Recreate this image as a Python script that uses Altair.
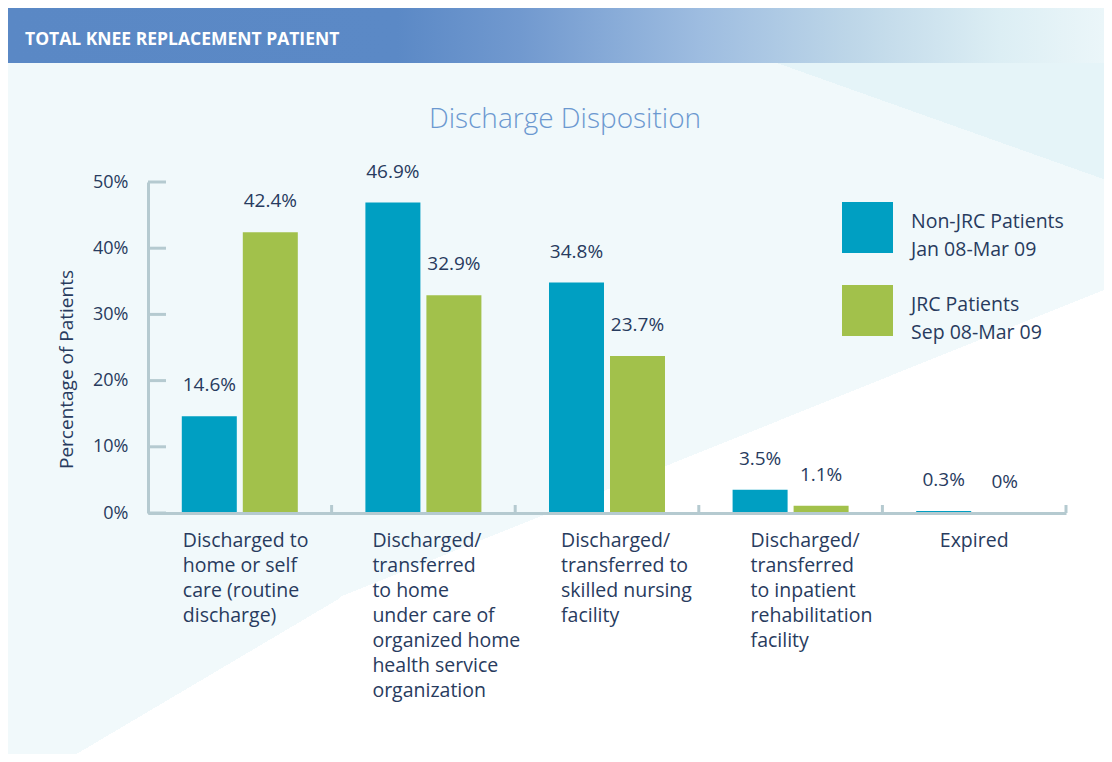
import altair as alt
import pandas as pd

# ---------------- data ----------------
categories = [
    "Discharged to|home or self|care (routine|discharge)",
    "Discharged/|transferred|to home|under care of|organized home|health service|organization",
    "Discharged/|transferred to|skilled nursing|facility",
    "Discharged/|transferred|to inpatient|rehabilitation|facility",
    "Expired",
]
series = ["Non-JRC Patients|Jan 08-Mar 09", "JRC Patients|Sep 08-Mar 09"]
non_jrc = [14.6, 46.9, 34.8, 3.5, 0.3]
jrc = [42.4, 32.9, 23.7, 1.1, 0.0]
y_ticks = [0, 10, 20, 30, 40, 50]

header_text = "TOTAL KNEE REPLACEMENT PATIENT"
chart_title = "Discharge Disposition"
y_title = "Percentage of Patients"

# ---------------- styles ----------------
NAVY = "#283B5E"
AXIS = "#B5CAD0"
BLUE = "#009FC2"
GREEN = "#A2C14B"
BASE = "#F1F9FB"
FONT = "Open Sans"
W, H = 918, 331
PAD = {"left": 140, "top": 174, "right": 38, "bottom": 241}
RIGHT = W + PAD["right"]
BOTTOM = H + PAD["bottom"]

rows = []
for c, a, b in zip(categories, non_jrc, jrc):
    rows.append({"cat": c, "series": series[0], "v": a})
    rows.append({"cat": c, "series": series[1], "v": b})
df = pd.DataFrame(rows)
one = pd.DataFrame({"d": [0]})
tick_df = pd.DataFrame({"v": y_ticks})
cat_df = pd.DataFrame({"cat": categories})

x_scale = alt.Scale(domain=categories, paddingInner=0, paddingOuter=0)
off_scale = alt.Scale(domain=series, paddingInner=0.0984, paddingOuter=0.554)
y_scale = alt.Scale(domain=[0, 50])

def cond_eq(i):
    return "datum.value == '" + categories[i] + "'"

x_axis = alt.Axis(
    title=None, ticks=False, grid=False, zindex=1,
    domainColor=AXIS, domainWidth=3,
    labelExpr="split(datum.label, '|')",
    labelAngle=0, labelOverlap=False, labelBound=False, labelLimit=400,
    labelFont=FONT, labelFontSize=19.5, labelColor=NAVY, labelLineHeight=25,
    labelBaseline="top", labelPadding=18,
    labelAlign={"condition": {"test": cond_eq(4), "value": "center"}, "value": "left"},
    labelOffset={"condition": [
        {"test": cond_eq(0), "value": -57},
        {"test": cond_eq(1), "value": -51},
        {"test": cond_eq(2), "value": -46},
        {"test": cond_eq(3), "value": -40},
    ], "value": 0},
)

y_axis = alt.Axis(
    values=y_ticks, labelExpr="datum.value + '%'", ticks=False, grid=False, zindex=1,
    domainColor=AXIS, domainWidth=3,
    labelFont=FONT, labelFontSize=18, labelColor=NAVY, labelPadding=20,
    title=y_title, titleFont=FONT, titleFontSize=19, titleFontWeight="normal",
    titleColor=NAVY, titleAngle=270, titleX=-82, titleY=187,
    titleAlign="center", titleBaseline="middle",
)

def split_grad(x1, y1, x2, y2, t, c1, c2):
    return alt.LinearGradient(
        gradient="linear", x1=x1, y1=y1, x2=x2, y2=y2,
        stops=[alt.GradientStop(color=c1, offset=0),
               alt.GradientStop(color=c1, offset=t),
               alt.GradientStop(color=c2, offset=t),
               alt.GradientStop(color=c2, offset=1)])

# ---------------- decorations ----------------
bg = alt.Chart(one).mark_rect(
    fill=split_grad(0, 0, 0.696, 1.179, 0.609, BASE, "#FFFFFF"),
).encode(x=alt.value(-PAD["left"]), x2=alt.value(RIGHT),
         y=alt.value(-PAD["top"]), y2=alt.value(BOTTOM))

corner = alt.Chart(one).mark_rect(
    fill=split_grad(0, 0, 1.081, 0.903, 0.5676, BASE, "#FFFFFF"),
).encode(x=alt.value(-PAD["left"]), x2=alt.value(192), y=alt.value(408), y2=alt.value(BOTTOM))

tri = alt.Chart(one).mark_rect(
    fill=split_grad(0, 1, 1.057, 0.0647, 0.5705, BASE, "#E5F4F8"),
).encode(x=alt.value(552), x2=alt.value(RIGHT), y=alt.value(-119), y2=alt.value(8))

header = alt.Chart(one).mark_rect(
    fill=alt.LinearGradient(
        gradient="linear", x1=0, y1=0, x2=1, y2=0,
        stops=[alt.GradientStop(color="#5A88C5", offset=0),
               alt.GradientStop(color="#5B89C6", offset=0.355),
               alt.GradientStop(color="#7199CF", offset=0.467),
               alt.GradientStop(color="#9DBCE0", offset=0.63),
               alt.GradientStop(color="#BDD6E8", offset=0.768),
               alt.GradientStop(color="#DCEEF4", offset=0.905),
               alt.GradientStop(color="#EBF6F9", offset=1)]),
).encode(x=alt.value(-PAD["left"]), x2=alt.value(RIGHT), y=alt.value(-176), y2=alt.value(-119))

header_txt = alt.Chart(one).mark_text(
    text=header_text, font=FONT, fontSize=17.5, fontWeight="bold", color="#FFFFFF",
    align="left", baseline="middle",
).encode(x=alt.value(-123), y=alt.value(-142))

title_txt = alt.Chart(one).mark_text(
    text=chart_title, font=FONT, fontSize=28, fontWeight=300, color="#6B98D0",
    align="center", baseline="middle",
).encode(x=alt.value(417), y=alt.value(-62))

# ---------------- data marks ----------------
bars = alt.Chart(df).mark_bar().encode(
    x=alt.X("cat:N", sort=categories, scale=x_scale, axis=x_axis),
    xOffset=alt.XOffset("series:N", sort=series, scale=off_scale),
    y=alt.Y("v:Q", scale=y_scale, axis=y_axis),
    color=alt.Color("series:N", sort=series,
                    scale=alt.Scale(domain=series, range=[BLUE, GREEN]),
                    legend=alt.Legend(
                        orient="none", legendX=694, legendY=20, title=None,
                        symbolType="square", symbolSize=2601, symbolStrokeWidth=0,
                        symbolOpacity=1, labelExpr="split(datum.label, '|')",
                        labelFont=FONT, labelFontSize=19.5, labelBaseline="alphabetic",
                        labelOffset=18, rowPadding=26, labelColor=NAVY,
                        padding=0, labelLimit=400, zindex=1)),
)

labels = alt.Chart(df).transform_calculate(
    lab="datum.v == 0 ? '0%' : format(datum.v, '.1f') + '%'"
).mark_text(
    font=FONT, fontSize=19, color=NAVY, baseline="alphabetic", dy=-25,
).encode(
    x=alt.X("cat:N", sort=categories, scale=x_scale, axis=x_axis),
    xOffset=alt.XOffset("series:N", sort=series, scale=off_scale),
    y=alt.Y("v:Q", scale=y_scale, axis=y_axis),
    text="lab:N",
)

yticks = alt.Chart(tick_df).mark_rule(color=AXIS, strokeWidth=3).encode(
    y=alt.Y("v:Q", scale=y_scale, axis=y_axis),
    x=alt.value(0), x2=alt.value(18),
)

xticks = alt.Chart(cat_df).mark_rule(color=AXIS, strokeWidth=3).encode(
    x=alt.X("cat:N", sort=categories, scale=x_scale, axis=x_axis, bandPosition=1),
    y=alt.value(H - 8), y2=alt.value(H),
)

chart = alt.layer(bg, corner, tri, header, header_txt, title_txt,
                  bars, labels, yticks, xticks).properties(
    width=W, height=H,
    padding=PAD,
    autosize=alt.AutoSizeParams(type="none"),
    background="#FFFFFF",
).configure(
    style={"guide-label": {"lineHeight": 28}},
).configure_view(stroke=None)

chart.save("out.html", embed_options={"renderer": "svg", "actions": False})
